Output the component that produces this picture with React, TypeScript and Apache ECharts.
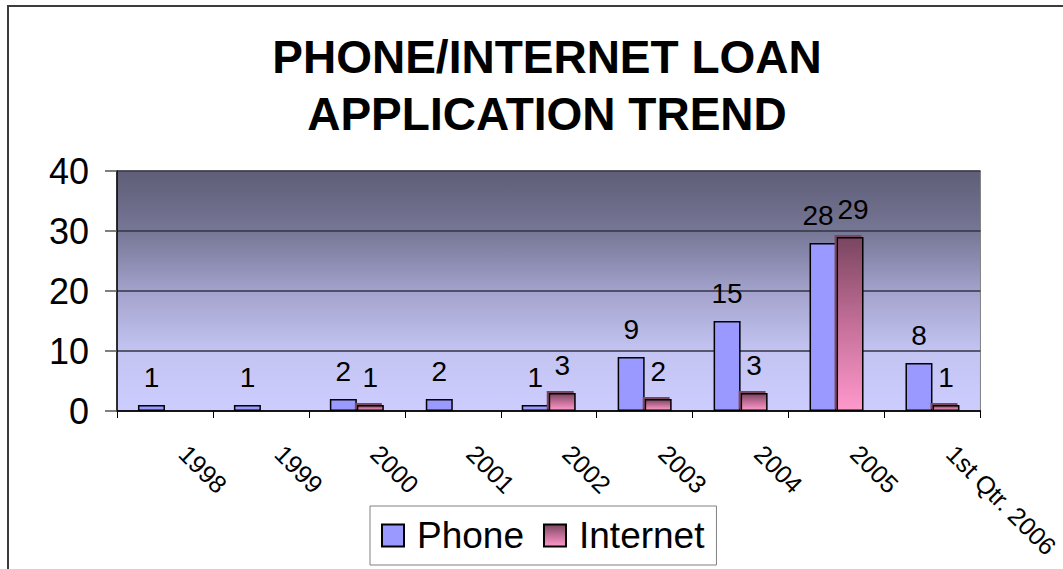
import React, { useEffect, useRef } from "react";
import * as echarts from "echarts";

const categories = ["1998", "1999", "2000", "2001", "2002", "2003", "2004", "2005", "1st Qtr. 2006"];
const phoneValues = [1, 1, 2, 2, 1, 9, 15, 28, 8];
const internetValues: (number | null)[] = [null, null, 1, null, 3, 2, 3, 29, 1];
const yTicks = { min: 0, max: 40, interval: 10 };
const titleLines = ["PHONE/INTERNET LOAN", "APPLICATION TREND"];

const FONT = "'Liberation Sans', Arial, sans-serif";

export default function App() {
  const ref = useRef<HTMLDivElement>(null);
  useEffect(() => {
    if (!ref.current) return;
    const chart = echarts.init(ref.current, null, { renderer: "svg" });
    const internetGradient = new echarts.graphic.LinearGradient(0, 0, 0, 1, [
      { offset: 0, color: "#7a4660" },
      { offset: 0.5, color: "#c46f98" },
      { offset: 1, color: "#ff99cc" },
    ]);
    const plotGradient = new echarts.graphic.LinearGradient(0, 0, 0, 1, [
      { offset: 0, color: "#5e5e78" },
      { offset: 0.25, color: "#767696" },
      { offset: 0.5, color: "#a2a2cc" },
      { offset: 0.75, color: "#c4c4f2" },
      { offset: 1, color: "#ccccff" },
    ]);
    // the two tallest labels sit side by side; nudge them apart slightly
    const phoneData = phoneValues.map((v, i) =>
      i === 7 ? { value: v, label: { offset: [-5, 0] } } : v
    );
    const internetData = internetValues.map((v, i) =>
      i === 7 ? { value: v, label: { offset: [3, 0] } } : v
    );
    chart.setOption({
      animation: false,
      backgroundColor: "#ffffff",
      textStyle: { fontFamily: FONT },
      title: {
        text: titleLines.join("\n"),
        left: 542,
        textAlign: "center",
        top: 23,
        textStyle: {
          fontFamily: FONT,
          fontSize: 46,
          fontWeight: "bold",
          color: "#000",
          lineHeight: 57,
        },
      },
      graphic: [
        {
          type: "rect",
          shape: { x: 8, y: 6, width: 1100, height: 620 },
          style: { fill: "none", stroke: "#3c3c3c", lineWidth: 2 },
          silent: true,
          z: 100,
        },
      ],
      legend: {
        left: 370,
        top: 506,
        orient: "horizontal",
        backgroundColor: "#ffffff",
        borderColor: "#808080",
        borderWidth: 1,
        padding: [11, 12, 11, 11],
        itemWidth: 22,
        itemHeight: 22,
        itemGap: 19,
        icon: "rect",
        textStyle: {
          fontFamily: FONT,
          fontSize: 37,
          color: "#000",
          lineHeight: 36,
          padding: [0, 0, 0, 8],
        },
        data: ["Phone", "Internet"],
      },
      grid: {
        left: 117,
        right: 82,
        top: 171,
        bottom: 158,
        show: true,
        backgroundColor: plotGradient,
        borderColor: "#808080",
        borderWidth: 1,
        containLabel: false,
      },
      xAxis: {
        type: "category",
        data: categories,
        boundaryGap: true,
        axisLine: { show: true, lineStyle: { color: "#000", width: 1.5 } },
        axisTick: { show: true, alignWithLabel: false, length: 7, lineStyle: { color: "#000", width: 1 } },
        axisLabel: {
          interval: 0,
          rotate: -45,
          fontFamily: FONT,
          fontSize: 25,
          color: "#000",
          margin: 20,
          padding: [0, 0, 0, 26],
        },
        splitLine: { show: false },
      },
      yAxis: {
        type: "value",
        min: yTicks.min,
        max: yTicks.max,
        interval: yTicks.interval,
        axisLine: { show: true, lineStyle: { color: "#000", width: 1.5 } },
        axisTick: { show: true, length: 12, lineStyle: { color: "#555", width: 1.5 } },
        axisLabel: { fontFamily: FONT, fontSize: 36, color: "#000", margin: 28 },
        splitLine: { show: true, lineStyle: { color: "#333344", width: 1.5 } },
      },
      series: [
        {
          name: "Phone",
          type: "bar",
          data: phoneData,
          barWidth: 27,
          barGap: "0%",
          itemStyle: { color: "#9999ff", borderColor: "#000", borderWidth: 1.5 },
          label: {
            show: true,
            position: "top",
            distance: 14,
            fontFamily: FONT,
            fontSize: 28,
            color: "#000",
          },
        },
        {
          name: "Internet",
          type: "bar",
          data: internetData,
          barWidth: 27,
          barGap: "0%",
          itemStyle: {
            color: internetGradient,
            borderColor: "#000",
            borderWidth: 1.5,
            shadowColor: "#7a4660",
            shadowOffsetX: -2,
            shadowOffsetY: -2,
            shadowBlur: 0,
          },
          label: {
            show: true,
            position: "top",
            distance: 14,
            fontFamily: FONT,
            fontSize: 28,
            color: "#000",
          },
        },
      ],
    });
    return () => chart.dispose();
  }, []);
  return (
    <div
      ref={ref}
      style={{ position: "fixed", left: 0, top: 0, width: 1063, height: 569, background: "#fff" }}
    />
  );
}
